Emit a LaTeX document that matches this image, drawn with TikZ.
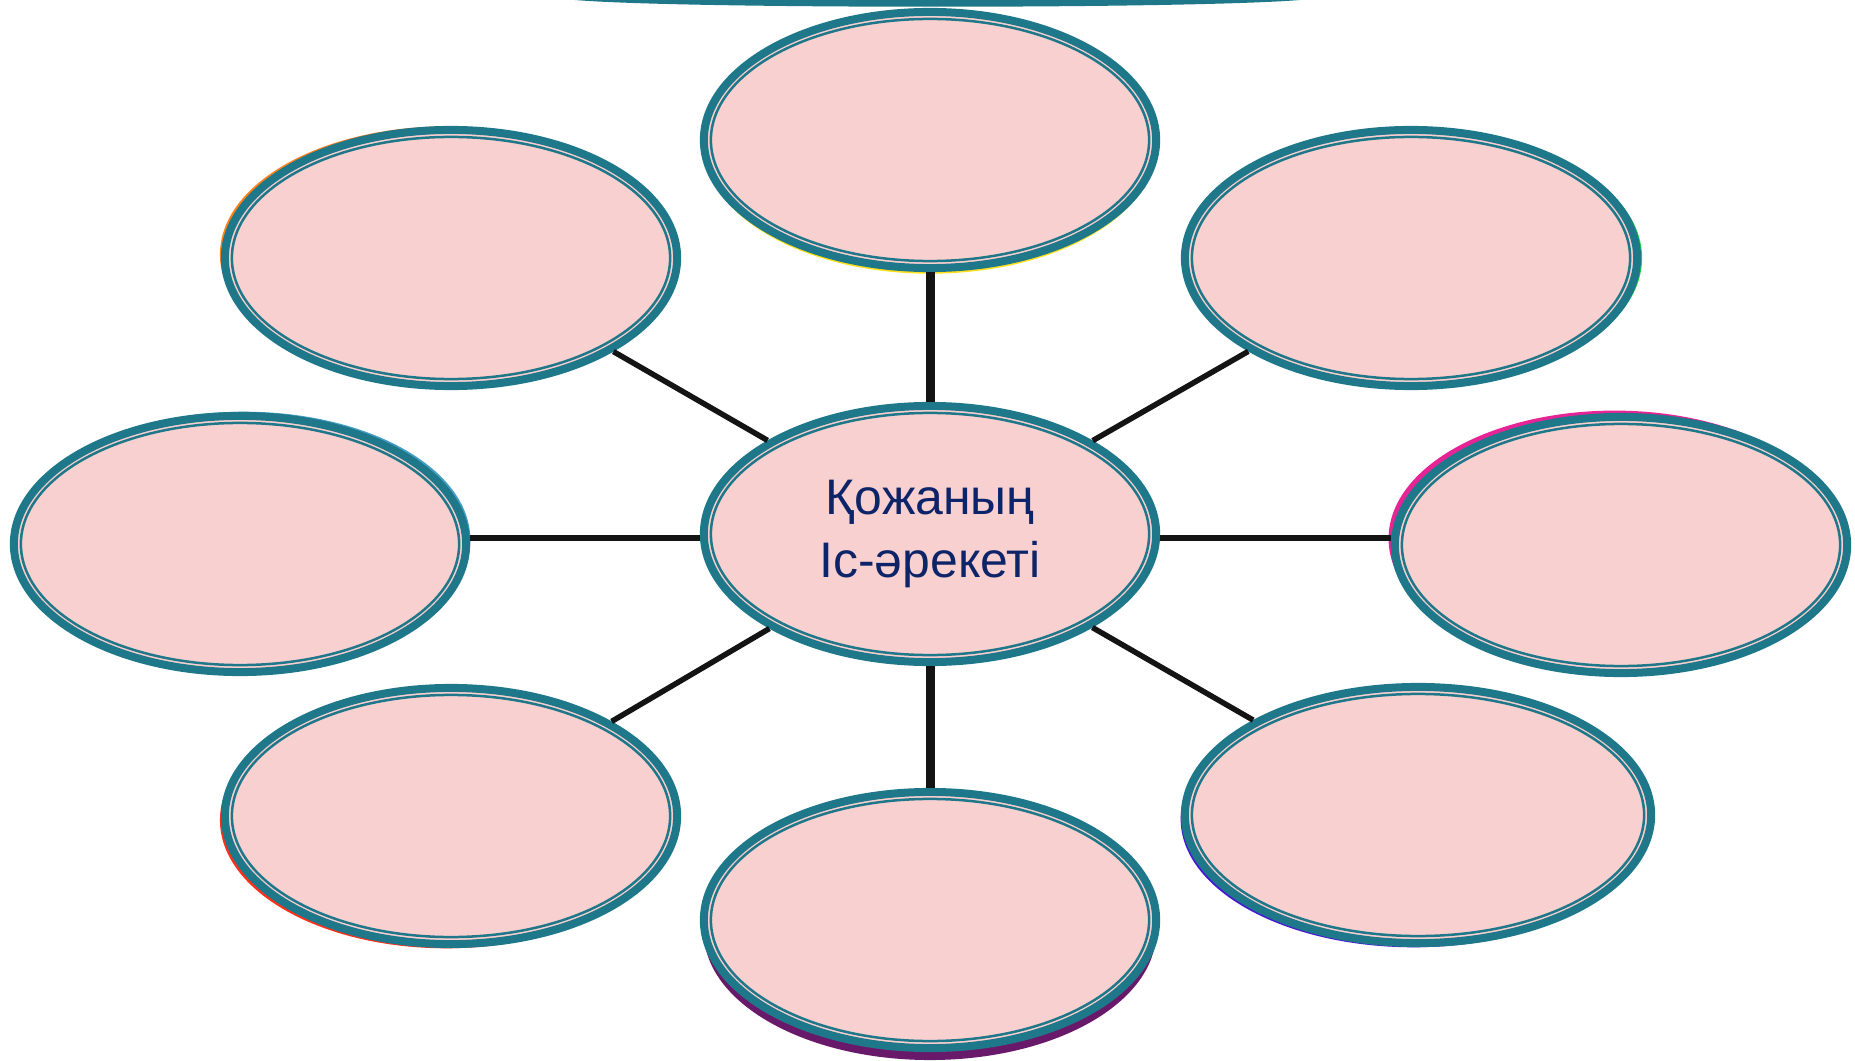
\documentclass[tikz,border=0pt]{standalone}
\usepackage{fontspec}
\setmainfont{Liberation Sans}
\usetikzlibrary{shapes.geometric,shadows,positioning}
\definecolor{rimteal}{RGB}{31,120,138}
\definecolor{petal}{RGB}{248,208,208}
\definecolor{inkblue}{RGB}{14,36,104}
\definecolor{wire}{RGB}{20,20,20}

\tikzset{
  bubble/.style={ellipse, draw=rimteal, fill=petal, line width=0.08cm,
    minimum width=4.52cm, minimum height=2.56cm, inner sep=0pt},
  glow/.style n args={3}{drop shadow={shadow xshift=#1, shadow yshift=#2,
    fill=#3, opacity=0.9}},
  ring/.style={draw=rimteal, line width=0.025cm},
}

\begin{document}
\begin{tikzpicture}[x=0.01cm,y=-0.01cm]
	\useasboundingbox (0,0) rectangle (1855,1061);
	% strip of the banner above
	\fill [rimteal] (575,0) .. controls (680,9) and (1190,9) .. (1300,0) -- cycle;
	% petals
	\node [bubble, glow={0pt}{-1.6pt}{yellow!80!orange}] (top) at (930,140) {};
	\node [bubble, glow={-1.4pt}{1pt}{orange!90!red}] (ul) at (451,258) {};
	\node [bubble, glow={1.4pt}{0pt}{green!70!teal}] (ur) at (1411,258) {};
	\node [bubble, glow={1.2pt}{1.2pt}{cyan!50!teal}] (lft) at (240,544) {};
	\node [bubble, glow={-1.8pt}{1.8pt}{magenta!90!violet}] (rgt) at (1621,545) {};
	\node [bubble, glow={-1.4pt}{-1.2pt}{red!80!orange}] (ll) at (451,816) {};
	\node [bubble, minimum width=4.66cm, glow={-1.2pt}{-1.2pt}{blue!60!violet}] (lr) at (1418,815) {};
	\node [bubble, glow={0pt}{-3.4pt}{violet!70!black}] (bot) at (930,920) {};
	\node [bubble, text=inkblue, align=center,
		font=\fontsize{14.2}{18}\selectfont] (hub) at (930,534) {Қожаның\\Іс-әрекеті};
	% inner thin rings
	\foreach \n/\r in {top/2.19,ul/2.19,ur/2.19,lft/2.19,rgt/2.19,ll/2.19,lr/2.26,bot/2.19,hub/2.19}
		\draw [ring] (\n.center) ellipse [x radius=\r cm, y radius=1.21cm];
	% spokes
	\coordinate (midrow) at (930,538);
	\draw [wire, line width=0.09cm] (hub) -- (top);
	\draw [wire, line width=0.09cm] (hub) -- (bot);
	\draw [wire, line width=0.06cm] (hub.west |- midrow) -- (lft.east |- midrow);
	\draw [wire, line width=0.06cm] (hub.east |- midrow) -- (rgt.west |- midrow);
	\foreach \n in {ul,ur,ll,lr}
		\draw [wire, line width=0.055cm] (hub) -- (\n);
\end{tikzpicture}
\end{document}
